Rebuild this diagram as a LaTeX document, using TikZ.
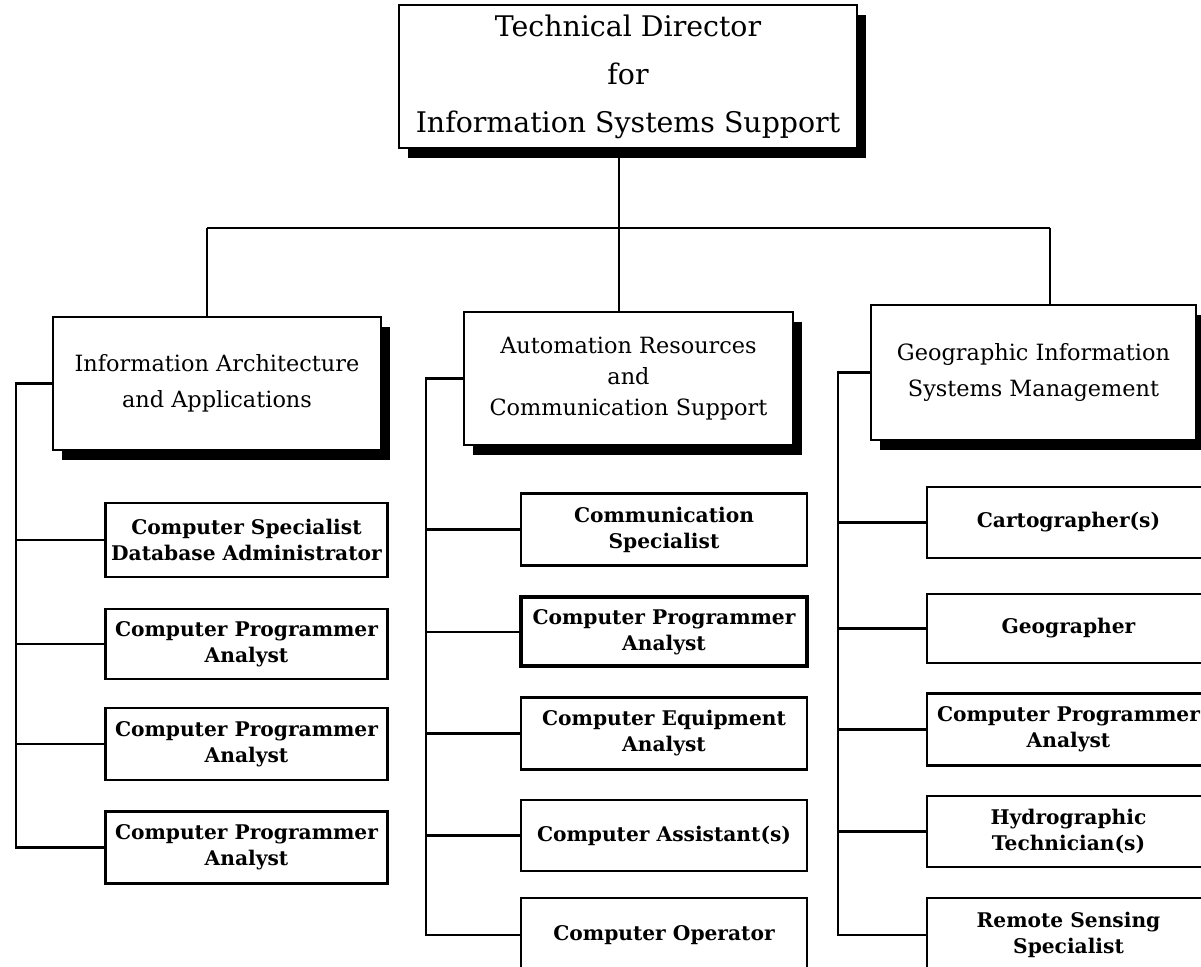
\documentclass[tikz,border=0pt]{standalone}
\usepackage{fontspec}
\setmainfont{DejaVu Serif}
\usepackage{tikz}
\usetikzlibrary{shadows}

\tikzset{
  unitbox/.style={draw=black, line width=1.2pt, fill=white, align=center, inner sep=0pt},
  headbox/.style={unitbox, line width=1.3pt, general shadow={fill=black, shadow xshift=4.5pt, shadow yshift=-5pt}, font=\fontsize{11.2}{18}\selectfont},
  jobbox/.style={unitbox, minimum width=141pt, minimum height=36pt, font=\bfseries\fontsize{10.1}{13}\selectfont},
  link/.style={line width=1.2pt}
}

\begin{document}
\begin{tikzpicture}[x=0.5pt, y=-0.5pt]
\useasboundingbox (0,0) rectangle (1201,967);
\clip (0,0) rectangle (1201,967);
\fill[white] (0,0) rectangle (1201,967);

\node[headbox, minimum width=229pt, minimum height=71.5pt, font=\fontsize{14.2}{24}\selectfont] (td) at (628,76.5) {Technical Director\\for\\Information Systems Support};

\node[headbox, minimum width=164pt, minimum height=66.5pt] (ia) at (217,383.5) {Information Architecture\\and Applications};
\node[headbox, minimum width=164.5pt, minimum height=66.5pt, font=\fontsize{11.2}{15.5}\selectfont] (ar) at (628.5,378.5) {Automation Resources\\and\\Communication Support};
\node[headbox, minimum width=162.5pt, minimum height=67.5pt] (gis) at (1033.5,372.5) {Geographic Information\\Systems Management};

\node[jobbox, minimum height=37pt] (ia1) at (246.5,540) {Computer Specialist\\Database Administrator};
\node[jobbox, minimum height=35pt] (ia2) at (246.5,644) {Computer Programmer\\Analyst};
\node[jobbox] (ia3) at (246.5,744) {Computer Programmer\\Analyst};
\node[jobbox] (ia4) at (246.5,847.5) {Computer Programmer\\Analyst};

\node[jobbox, minimum width=143pt] (ar1) at (664,529.5) {Communication\\Specialist};
\node[jobbox, minimum width=143pt, minimum height=34.5pt, line width=2pt] (ar2) at (664,632) {Computer Programmer\\Analyst};
\node[jobbox, minimum width=143pt] (ar3) at (664,733.5) {Computer Equipment\\Analyst};
\node[jobbox, minimum width=143pt, minimum height=35.5pt] (ar4) at (664,835.5) {Computer Assistant(s)};
\node[jobbox, minimum width=143pt, minimum height=37pt] (ar5) at (664,935) {Computer Operator};

\node[jobbox, minimum width=141.5pt, minimum height=35.5pt] (gis1) at (1068.5,522.5) {Cartographer(s)};
\node[jobbox, minimum width=141.5pt, minimum height=34.5pt] (gis2) at (1068.5,628.5) {Geographer};
\node[jobbox, minimum width=141.5pt] (gis3) at (1068.5,729.5) {Computer Programmer\\Analyst};
\node[jobbox, minimum width=141.5pt, minimum height=35.5pt] (gis4) at (1068.5,831.5) {Hydrographic\\Technician(s)};
\node[jobbox, minimum width=141.5pt, minimum height=37pt] (gis5) at (1068.5,935) {Remote Sensing\\Specialist};

\coordinate (busL) at (207,228);
\coordinate (busM) at (619,228);
\coordinate (busR) at (1050,228);
\coordinate (spL) at (16,0);
\coordinate (spM) at (426,0);
\coordinate (spR) at (838,0);

\draw[link] (busL) -- (busR);
\draw[link] (td.south -| busM) -- (busM);
\draw[link] (busL) -- (busL |- ia.north);
\draw[link] (busM) -- (busM |- ar.north);
\draw[link] (busR) -- (busR |- gis.north);

\draw[link] (ia.west) -| (spL |- ia4.west) -- (ia4.west);
\foreach \n in {1,2,3}
  \draw[link] (ia\n.west) -- (ia\n.west -| spL);

\draw[link] (ar.west) -| (spM |- ar5.west) -- (ar5.west);
\foreach \n in {1,2,3,4}
  \draw[link] (ar\n.west) -- (ar\n.west -| spM);

\draw[link] (gis.west) -| (spR |- gis5.west) -- (gis5.west);
\foreach \n in {1,2,3,4}
  \draw[link] (gis\n.west) -- (gis\n.west -| spR);
\end{tikzpicture}
\end{document}
